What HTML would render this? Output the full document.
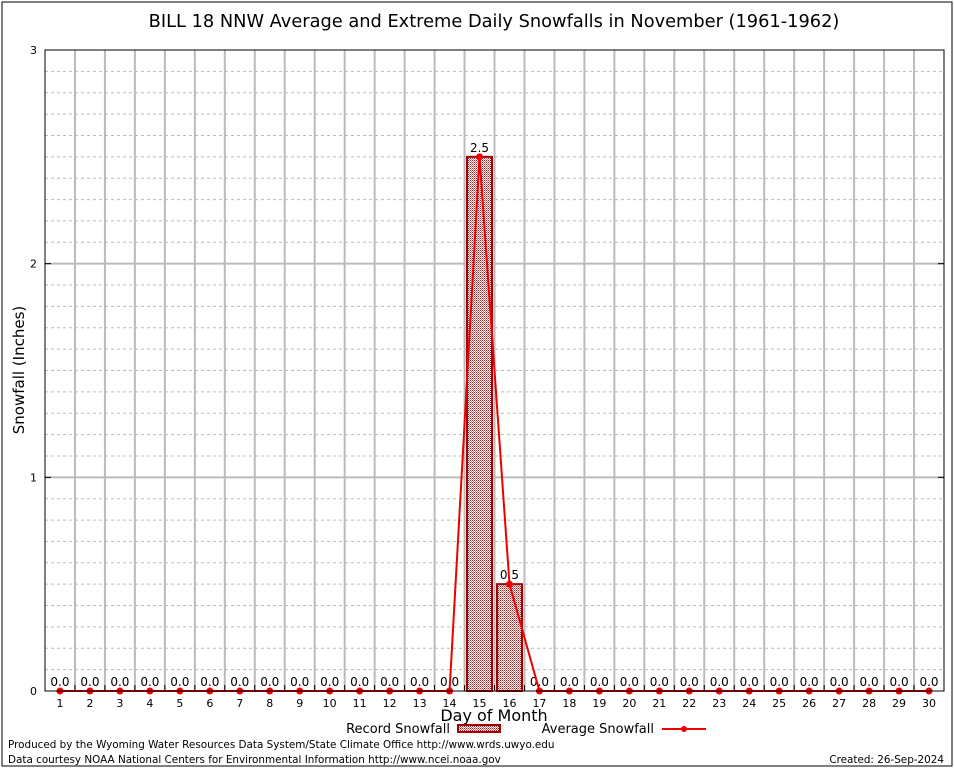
<!DOCTYPE html>
<html><head><meta charset="utf-8"><style>
body{margin:0;background:#fff}
svg text{font-family:"DejaVu Sans","Liberation Sans",sans-serif}
</style></head><body>
<svg id="chart" width="954" height="768" xmlns="http://www.w3.org/2000/svg">
<defs>
<pattern id="chk" width="2" height="2" patternUnits="userSpaceOnUse">
<rect width="2" height="2" fill="#fff"/><rect width="1" height="1" fill="#b02020"/><rect x="1" y="1" width="1" height="1" fill="#d08080"/>
</pattern>
</defs>
<rect x="2" y="2" width="950" height="764" fill="none" stroke="#000" stroke-width="1"/>
<text x="494" y="27" font-size="17.8" text-anchor="middle">BILL 18 NNW Average and Extreme Daily Snowfalls in November (1961-1962)</text>
<g id="grid"></g>
<g id="bars"></g>
<g id="line"></g>
<g id="axes"></g>
<text transform="translate(24,370) rotate(-90)" font-size="15" text-anchor="middle">Snowfall (Inches)</text>
<text x="494" y="721" font-size="16" text-anchor="middle">Day of Month</text>
<g>
<text x="450" y="733" font-size="13" text-anchor="end">Record Snowfall</text>
<rect x="458" y="725" width="42" height="7" fill="url(#chk)" stroke="#a00000" stroke-width="2"/>
<text x="654" y="733" font-size="13" text-anchor="end">Average Snowfall</text>
<line x1="662" y1="729" x2="706" y2="729" stroke="#e00" stroke-width="2"/>
<circle cx="684" cy="729" r="3" fill="#e00"/>
</g>
<text x="8" y="748" font-size="10.4">Produced by the Wyoming Water Resources Data System/State Climate Office http://www.wrds.uwyo.edu</text>
<text x="8" y="763" font-size="10.4">Data courtesy NOAA National Centers for Environmental Information http://www.ncei.noaa.gov</text>
<text x="944" y="763" font-size="10.4" text-anchor="end">Created: 26-Sep-2024</text>
</svg>
<script>
const days = [1,2,3,4,5,6,7,8,9,10,11,12,13,14,15,16,17,18,19,20,21,22,23,24,25,26,27,28,29,30];
const recordValues = [0,0,0,0,0,0,0,0,0,0,0,0,0,0,2.5,0.5,0,0,0,0,0,0,0,0,0,0,0,0,0,0];
const averageValues = [0,0,0,0,0,0,0,0,0,0,0,0,0,0,2.5,0.5,0,0,0,0,0,0,0,0,0,0,0,0,0,0];
const yTicks = [0,1,2,3];

const L=45,R=944,T=50,B=691,yMax=3;
const dw=(R-L)/days.length;
const xc=d=>L+(d-0.5)*dw;
const y=v=>B-(v/yMax)*(B-T);
const NS="http://www.w3.org/2000/svg";
function mk(tag,attrs,parent){const e=document.createElementNS(NS,tag);for(const k in attrs)e.setAttribute(k,attrs[k]);parent.appendChild(e);return e;}
const grid=document.getElementById('grid'),bars=document.getElementById('bars'),line=document.getElementById('line'),axes=document.getElementById('axes');

for(let v=0.1;v<yMax-0.01;v+=0.1){
  if(Math.abs(v-Math.round(v))<0.01)continue;
  const g=mk('line',{x1:L,x2:R,y1:y(v),y2:y(v),stroke:'#bbb','stroke-dasharray':'3,3','stroke-width':1},grid);
  
  
}
for(let i=1;i<days.length;i++){
  const g=mk('line',{x1:L+i*dw,x2:L+i*dw,y1:T,y2:B,stroke:'#bbb','stroke-width':2},grid);
  
  
}
yTicks.forEach(t=>{
  if(t>0&&t<yMax){const g=mk('line',{x1:L,x2:R,y1:y(t),y2:y(t),stroke:'#bbb','stroke-width':2},grid);
  
  }
  const tx=mk('text',{x:L-8,y:y(t)+4,'font-size':11,'text-anchor':'end'},axes);tx.textContent=t;
  
  
  const tk=mk('line',{x1:L,x2:L+6,y1:y(t),y2:y(t),stroke:'#000'},axes);
  
  
  const tk2=mk('line',{x1:R-6,x2:R,y1:y(t),y2:y(t),stroke:'#000'},axes);
  
  
});
const frame=mk('rect',{x:L,y:T,width:R-L,height:B-T,fill:'none',stroke:'#000'},axes);



days.forEach((d,i)=>{
  const v=recordValues[i];
  if(v>0){
    const b=mk('rect',{x:xc(d)-12.5,y:y(v),width:25,height:B-y(v),fill:'url(#chk)',stroke:'#a00000','stroke-width':2},bars);
    
    
  }
  const lb=mk('text',{x:xc(d),y:y(v)-5,'font-size':12,'text-anchor':'middle'},bars);
  lb.textContent=v.toFixed(1);
  
  
  const xt=mk('text',{x:xc(d),y:B+16,'font-size':11,'text-anchor':'middle','font-family':'Liberation Serif, serif'},axes);
  xt.textContent=d;
  
  
  const xk=mk('line',{x1:L+i*dw,x2:L+i*dw,y1:B,y2:B-6,stroke:'#000'},axes);
  
  
});
const pts=days.map((d,i)=>xc(d)+','+y(averageValues[i])).join(' ');
const pl=mk('polyline',{points:pts,fill:'none',stroke:'#e00','stroke-width':2},line);


days.forEach((d,i)=>{
  const c=mk('circle',{cx:xc(d),cy:y(averageValues[i]),r:3.5,fill:'#e00'},line);
  
  
});
</script>
</body></html>
